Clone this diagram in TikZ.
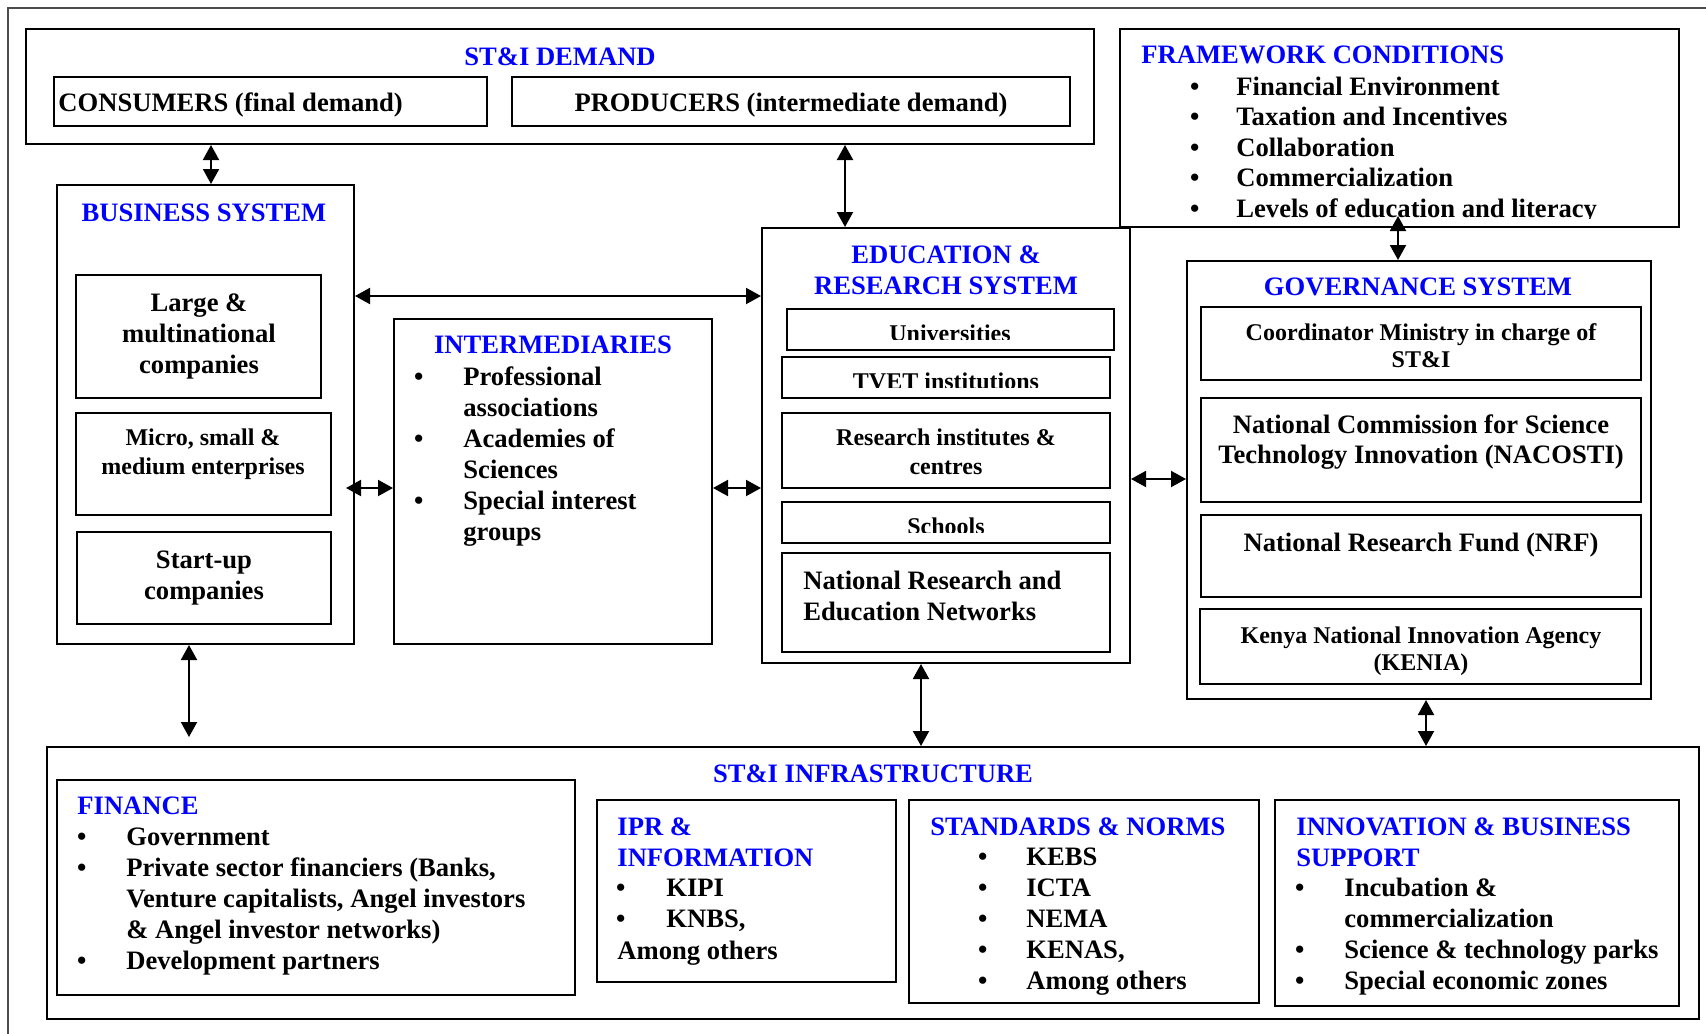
\documentclass[tikz,border=0pt]{standalone}
\usepackage{fontspec}
\setmainfont{Liberation Serif}
\usetikzlibrary{arrows.meta,fit}
\definecolor{stiblue}{RGB}{0,0,255}
\newcommand\fbig{\fontsize{13.3}{15.5}\selectfont\bfseries}
\newcommand\fsmall{\fontsize{12}{14}\selectfont\bfseries}
\newcommand\bul[1]{\makebox[#1][l]{\hspace*{-2.7pt}\textbullet}}
\newcommand\ind[1]{\hspace*{#1}}
\begin{document}
\begin{tikzpicture}[x=0.5pt,y=-0.5pt,
 box/.style={draw, line width=1pt, inner sep=0pt},
 txt/.style={inner sep=0pt, font=\fbig},
 stxt/.style={inner sep=0pt, font=\fsmall},
 ttl/.style={txt, text=stiblue},
 dbl/.style={{Triangle[length=7.5pt,width=8pt]}-{Triangle[length=7.5pt,width=8pt]}, line width=1pt}]
\useasboundingbox (0,0) rectangle (1706,1033);
% outer frame
\coordinate (ofa) at (8,1045); \coordinate (ofb) at (8,8); \coordinate (ofc) at (1720,8);
\draw[line width=0.7pt, black!70] (ofa) -- (ofb) -- (ofc);

% ST&I demand
\node[box, fit={(26,29)(1094,144)}] (demand) {};
\node[ttl, anchor=base] (demandt) at (560,65) {ST\&I DEMAND};
\node[box, fit={(54,77)(487,126)}] (cons) {};
\node[txt, anchor=base west] (const) at (58,111) {CONSUMERS (final demand)};
\node[box, fit={(512,77)(1070,126)}] (prod) {};
\node[txt, anchor=base] (prodt) at (791,111) {PRODUCERS (intermediate demand)};

% framework
\node[box, fit={(1120,29)(1679,227)}] (frame) {};
\node[ttl, anchor=base west] (framet) at (1141,63) {FRAMEWORK CONDITIONS};
\begin{scope}
\clip (1120,29) rectangle (1679,218);
\node[txt, anchor=base west, font=\fontsize{13.3}{15.25}\selectfont\bfseries] (framel) at (1195,95) {\begin{tabular}[t]{@{}l@{}}\bul{20.5pt}Financial Environment\\\bul{20.5pt}Taxation and Incentives\\\bul{20.5pt}Collaboration\\\bul{20.5pt}Commercialization\\\bul{20.5pt}Levels of education and literacy\end{tabular}};
\end{scope}

% business system
\node[box, fit={(57,185)(354,644)}] (biz) {};
\node[ttl, anchor=base] (bizt) at (204,221) {BUSINESS SYSTEM};
\node[box, fit={(76,275)(321,398)}] (large) {};
\node[txt, anchor=base] (larget) at (199,311) {\begin{tabular}[t]{@{}c@{}}Large \&\\multinational\\companies\end{tabular}};
\node[box, fit={(76,413)(331,515)}] (micro) {};
\node[stxt, anchor=base, font=\fontsize{12}{14.5}\selectfont\bfseries] (microt) at (203,445) {\begin{tabular}[t]{@{}c@{}}Micro, small \&\\medium enterprises\end{tabular}};
\node[box, fit={(77,532)(331,624)}] (start) {};
\node[txt, anchor=base] (startt) at (204,568) {\begin{tabular}[t]{@{}c@{}}Start-up\\companies\end{tabular}};

% intermediaries
\node[box, fit={(394,319)(712,644)}] (inter) {};
\node[ttl, anchor=base] (intert) at (553,353) {INTERMEDIARIES};
\node[txt, anchor=base west] (interl) at (419,385) {\begin{tabular}[t]{@{}l@{}}\bul{22pt}Professional\\\ind{22pt}associations\\\bul{22pt}Academies of\\\ind{22pt}Sciences\\\bul{22pt}Special interest\\\ind{22pt}groups\end{tabular}};

% education & research
\node[box, fit={(762,228)(1130,663)}] (edu) {};
\node[ttl, anchor=base] (edut) at (946,263) {\begin{tabular}[t]{@{}c@{}}EDUCATION \&\\RESEARCH SYSTEM\end{tabular}};
\node[box, fit={(787,309)(1114,350)}] (univ) {};
\begin{scope}
\clip (787,309) rectangle (1114,339);
\node[stxt, anchor=base] (univt) at (950,341) {Universities};
\end{scope}
\node[box, fit={(782,357)(1110,398)}] (tvet) {};
\begin{scope}
\clip (782,357) rectangle (1110,387);
\node[stxt, anchor=base] (tvett) at (946,389) {TVET institutions};
\end{scope}
\node[box, fit={(782,413)(1110,488)}] (resi) {};
\node[stxt, anchor=base, font=\fontsize{12}{14.5}\selectfont\bfseries] (resit) at (946,445) {\begin{tabular}[t]{@{}c@{}}Research institutes \&\\centres\end{tabular}};
\node[box, fit={(782,502)(1110,543)}] (school) {};
\begin{scope}
\clip (782,502) rectangle (1110,532);
\node[stxt, anchor=base] (schoolt) at (946,534) {Schools};
\end{scope}
\node[box, fit={(782,553)(1110,652)}] (nren) {};
\node[txt, anchor=base west] (nrent) at (803,589) {\begin{tabular}[t]{@{}l@{}}National Research and\\Education Networks\end{tabular}};

% governance
\node[box, fit={(1187,261)(1651,699)}] (gov) {};
\node[ttl, anchor=base] (govt) at (1418,295) {GOVERNANCE SYSTEM};
\node[box, fit={(1201,307)(1641,380)}] (coord) {};
\node[stxt, anchor=base, font=\fontsize{12}{13.5}\selectfont\bfseries] (coordt) at (1421,340) {\begin{tabular}[t]{@{}c@{}}Coordinator Ministry in charge of\\ST\&I\end{tabular}};
\node[box, fit={(1201,398)(1641,502)}] (naco) {};
\node[txt, anchor=base, font=\fontsize{13.3}{15}\selectfont\bfseries] (nacot) at (1421,433) {\begin{tabular}[t]{@{}c@{}}National Commission for Science\\Technology Innovation (NACOSTI)\end{tabular}};
\node[box, fit={(1201,515)(1641,597)}] (nrf) {};
\node[txt, anchor=base] (nrft) at (1421,551) {National Research Fund (NRF)};
\node[box, fit={(1200,609)(1641,684)}] (kenia) {};
\node[stxt, anchor=base, font=\fontsize{12}{13.5}\selectfont\bfseries] (keniat) at (1421,643) {\begin{tabular}[t]{@{}c@{}}Kenya National Innovation Agency\\(KENIA)\end{tabular}};

% infrastructure
\node[box, fit={(47,747)(1699,1019)}] (infra) {};
\node[ttl, anchor=base] (infrat) at (873,782) {ST\&I INFRASTRUCTURE};
\node[box, fit={(57,780)(575,995)}] (fin) {};
\node[ttl, anchor=base west] (fint) at (77,814) {FINANCE};
\node[txt, anchor=base west] (finl) at (82,845) {\begin{tabular}[t]{@{}l@{}}\bul{22pt}Government\\\bul{22pt}Private sector financiers (Banks,\\\ind{22pt}Venture capitalists, Angel investors\\\ind{22pt}\& Angel investor networks)\\\bul{22pt}Development partners\end{tabular}};
\node[box, fit={(597,800)(896,982)}] (ipr) {};
\node[ttl, anchor=base west] (iprt) at (617,835) {\begin{tabular}[t]{@{}l@{}}IPR \&\\INFORMATION\end{tabular}};
\node[txt, anchor=base west] (iprl) at (621,896) {\begin{tabular}[t]{@{}l@{}}\bul{22.5pt}KIPI\\\bul{22.5pt}KNBS,\end{tabular}};
\node[txt, anchor=base west] (iprm) at (617,959) {Among others};
\node[box, fit={(909,800)(1259,1003)}] (std) {};
\node[ttl, anchor=base west] (stdt) at (930,835) {STANDARDS \& NORMS};
\node[txt, anchor=base west] (stdl) at (983,865) {\begin{tabular}[t]{@{}l@{}}\bul{21.5pt}KEBS\\\bul{21.5pt}ICTA\\\bul{21.5pt}NEMA\\\bul{21.5pt}KENAS,\\\bul{21.5pt}Among others\end{tabular}};
\node[box, fit={(1275,800)(1679,1006)}] (inn) {};
\node[ttl, anchor=base west] (innt) at (1296,835) {\begin{tabular}[t]{@{}l@{}}INNOVATION \& BUSINESS\\SUPPORT\end{tabular}};
\node[txt, anchor=base west] (innl) at (1300,896) {\begin{tabular}[t]{@{}l@{}}\bul{22pt}Incubation \&\\\ind{22pt}commercialization\\\bul{22pt}Science \& technology parks\\\bul{22pt}Special economic zones\end{tabular}};

% connectors
\coordinate (xa) at (211,0);
\draw[dbl] (demand.south -| xa) -- (biz.north -| xa);
\coordinate (xb) at (845,0);
\draw[dbl] (demand.south -| xb) -- (edu.north -| xb);
\coordinate (xc) at (1398,0);
\draw[dbl, shorten <=-6pt] (frame.south -| xc) -- (gov.north -| xc);
\coordinate (ya) at (0,296);
\draw[dbl] (biz.east |- ya) -- (edu.west |- ya);
\coordinate (yb) at (0,488);
\draw[dbl, shorten <=-4.5pt] (biz.east |- yb) -- (inter.west |- yb);
\draw[dbl] (inter.east |- yb) -- (edu.west |- yb);
\coordinate (yc) at (0,479);
\draw[dbl] (edu.east |- yc) -- (gov.west |- yc);
\coordinate (xd) at (189,0);
\draw[dbl, shorten >=4.5pt] (biz.south -| xd) -- (infra.north -| xd);
\coordinate (xe) at (921,0);
\draw[dbl] (edu.south -| xe) -- (infra.north -| xe);
\coordinate (xf) at (1426,0);
\draw[dbl] (gov.south -| xf) -- (infra.north -| xf);
\end{tikzpicture}
\end{document}
